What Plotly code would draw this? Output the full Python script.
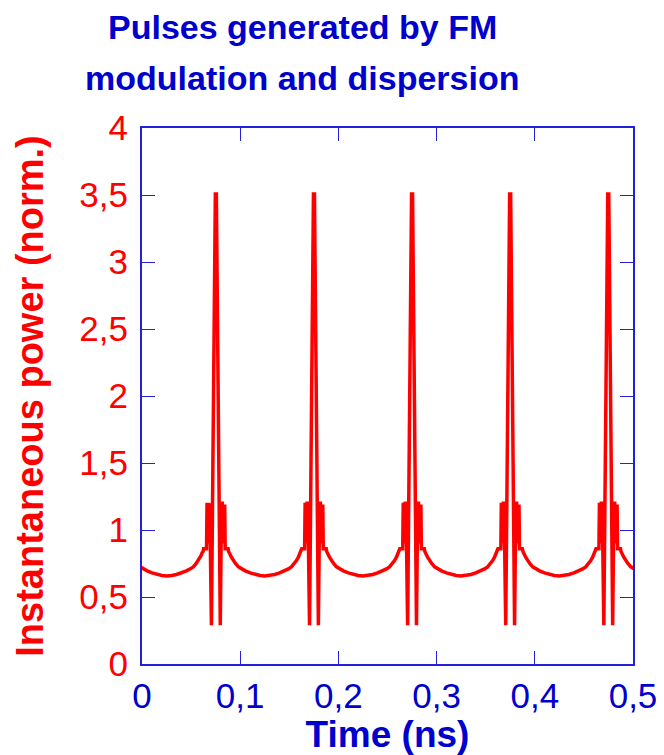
import plotly.graph_objects as go

# Pulse centres (ns); first and last are neighbours just outside the view
pulse_centers = [-0.0248, 0.0752, 0.1751, 0.2750, 0.3749, 0.4748, 0.5747]

# Shape of one pulse: time offset from centre (ns) and power (norm.)
pulse_offsets = [-0.0130, -0.0125, -0.0095, -0.0090, -0.0080, -0.0076, -0.0070, -0.0062,
                 -0.0045, -0.0005, 0.0000, 0.0005, 0.0045, 0.0058, 0.0066, 0.0072,
                 0.0078, 0.0085, 0.0090, 0.0095, 0.0125, 0.0130]
pulse_power = [0.84, 0.86, 0.86, 1.19, 1.19, 0.90, 1.20, 1.20,
               0.29, 3.52, 3.35, 3.52, 0.29, 1.20, 1.20, 0.90,
               1.19, 0.95, 1.19, 0.86, 0.86, 0.84]

# Background between pulses: distance from nearest pulse centre (ns) and power
bg_distance = [0.0140, 0.0150, 0.0160, 0.0180, 0.0200, 0.0230, 0.0260, 0.0300,
               0.0350, 0.0400, 0.0450, 0.0499]
bg_power = [0.83, 0.81, 0.795, 0.77, 0.75, 0.725, 0.71, 0.695,
            0.68, 0.668, 0.66, 0.657]

x_ticks = [0, 0.1, 0.2, 0.3, 0.4, 0.5]
y_ticks = [0, 0.5, 1, 1.5, 2, 2.5, 3, 3.5, 4]
title_lines = ["Pulses generated by FM", "modulation and dispersion"]

t, p = [], []
for c in pulse_centers:
    for s, v in zip(reversed(bg_distance), reversed(bg_power)):
        t.append(c - s); p.append(v)
    for o, v in zip(pulse_offsets, pulse_power):
        t.append(c + o); p.append(v)
    for s, v in zip(bg_distance, bg_power):
        t.append(c + s); p.append(v)

BLUE = "#0000CC"
RED = "#FF0000"
AX = "#2020DD"
FONT = "Liberation Sans, Arial"

OFF = 8  # page body margin
W, H = 664 - OFF, 755 - OFF
L, R, T, B = 142 - OFF, 31, 128 - OFF, 91

fig = go.Figure(go.Scatter(x=t, y=p, mode="lines",
                           line=dict(color=RED, width=3.5), hoverinfo="skip"))

# title as two lines, placed in window pixels converted to paper coords
pw, ph = W - L - R, H - T - B
for line, yc in zip(title_lines, [27, 78]):
    fig.add_annotation(text=line, xref="paper", yref="paper",
                       x=(302 - OFF - L) / pw, y=(H - B - (yc - OFF)) / ph,
                       xanchor="center", yanchor="middle", showarrow=False,
                       font=dict(family=FONT, size=34, color=BLUE, weight="bold"))

fig.update_layout(
    width=W, height=H,
    margin=dict(l=L, r=R, t=T, b=B),
    paper_bgcolor="white", plot_bgcolor="white",
    separators=", ",
    showlegend=False,
    font=dict(family=FONT, color=BLUE),
)

fig.update_xaxes(range=[0, 0.5], tickvals=x_ticks, ticks="inside", ticklen=13,
                 tickwidth=1, tickcolor=AX, showline=True, linecolor=AX, linewidth=2,
                 mirror="ticks", showgrid=False, zeroline=False, automargin=False,
                 ticklabelstandoff=0,
                 tickfont=dict(size=35, color=BLUE, family=FONT),
                 title=dict(text="Time (ns)", standoff=6,
                            font=dict(size=37, color=BLUE, weight="bold", family=FONT)))
fig.update_yaxes(range=[0, 4], tickvals=y_ticks, ticks="inside", ticklen=13,
                 tickwidth=1, tickcolor=AX, showline=True, linecolor=AX, linewidth=2,
                 mirror="ticks", showgrid=False, zeroline=False, automargin=False,
                 ticklabelstandoff=5,
                 tickfont=dict(size=35, color=RED, family=FONT),
                 title=dict(text="Instantaneous power (norm.)", standoff=24,
                            font=dict(size=38, color=RED, weight="bold", family=FONT)))

fig.write_html("out.html")
